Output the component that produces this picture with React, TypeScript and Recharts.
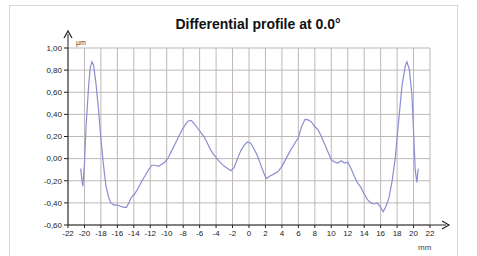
import React from 'react'
import { LineChart, Line, XAxis, YAxis, CartesianGrid } from 'recharts'

// position along the profile (mm) and differential height (µm)
const positionMm = [
  -20.46, -20.3, -20.2, -20.0, -19.8, -19.5, -19.3, -19.1, -18.9, -18.6, -18.3, -18.0, -17.7, -17.4,
  -17.1, -16.8, -16.4, -16.0, -15.6, -15.2, -14.9, -14.6, -14.3, -13.9, -13.5, -13.0, -12.6, -12.2,
  -11.8, -11.4, -11.0, -10.6, -10.2, -9.8, -9.4, -9.0, -8.6, -8.2, -7.8, -7.4, -7.0, -6.6, -6.2, -5.8,
  -5.4, -5.0, -4.6, -4.2, -3.8, -3.4, -3.0, -2.6, -2.2, -1.8, -1.4, -1.0, -0.6, -0.2, 0.2, 0.6, 1.0,
  1.4, 1.8, 2.1, 2.5, 3.0, 3.5, 4.0, 4.5, 5.0, 5.5, 6.0, 6.4, 6.8, 7.2, 7.6, 8.0, 8.4, 8.8, 9.2, 9.6,
  10.0, 10.4, 10.8, 11.2, 11.6, 12.0, 12.4, 12.8, 13.2, 13.6, 14.0, 14.4, 14.8, 15.2, 15.6, 16.0,
  16.3, 16.6, 17.0, 17.4, 17.8, 18.2, 18.6, 19.0, 19.2, 19.5, 19.8, 20.0, 20.2, 20.4, 20.57,
]
const heightUm = [
  -0.09, -0.2, -0.25, -0.05, 0.3, 0.65, 0.82, 0.875, 0.85, 0.68, 0.45, 0.18, -0.05, -0.24,
  -0.34, -0.4, -0.42, -0.42, -0.43, -0.44, -0.44, -0.4, -0.35, -0.32, -0.27, -0.2, -0.15, -0.1,
  -0.06, -0.06, -0.07, -0.05, -0.03, 0.01, 0.07, 0.13, 0.19, 0.25, 0.3, 0.34, 0.345, 0.31, 0.27, 0.23,
  0.19, 0.13, 0.07, 0.03, -0.01, -0.04, -0.07, -0.09, -0.11, -0.08, 0.0, 0.07, 0.12, 0.15, 0.14, 0.09, 0.03,
  -0.05, -0.13, -0.18, -0.16, -0.14, -0.12, -0.07, 0.0, 0.07, 0.13, 0.19, 0.29, 0.355, 0.35, 0.33, 0.29, 0.26, 0.2, 0.13, 0.06,
  -0.01, -0.03, -0.04, -0.02, -0.04, -0.03, -0.09, -0.16, -0.22, -0.26, -0.32, -0.37, -0.4, -0.41, -0.4, -0.44,
  -0.48, -0.44, -0.36, -0.2, 0.02, 0.35, 0.66, 0.84, 0.875, 0.8, 0.58, 0.25, -0.1, -0.215, -0.09,
]

const xTicks = [-22, -20, -18, -16, -14, -12, -10, -8, -6, -4, -2, 0, 2, 4, 6, 8, 10, 12, 14, 16, 18, 20, 22]
const yTicks = [-0.6, -0.4, -0.2, 0, 0.2, 0.4, 0.6, 0.8, 1.0]

const data = positionMm.map((x, i) => ({ x, y: heightUm[i] }))

const fmtY = (v: number) => v.toFixed(2).replace('.', ',')

const App = () => {
  return (
    <div
      style={{
        position: 'absolute',
        left: 0,
        top: 0,
        width: 477,
        height: 256,
        background: '#fff',
        fontFamily: 'Liberation Sans, Arial, sans-serif',
        overflow: 'hidden',
      }}
    >
      <div
        style={{
          position: 'absolute',
          left: 9,
          top: 5,
          width: 447,
          height: 260,
          border: '1px solid #d6d6d6',
        }}
      />
      <div
        style={{
          position: 'absolute',
          left: 0,
          width: 516,
          top: 16,
          textAlign: 'center',
          fontWeight: 'bold',
          fontSize: 14,
          color: '#111',
        }}
      >
        Differential profile at 0.0°
      </div>
      <div style={{ position: 'absolute', left: 0, top: 0 }}>
        <LineChart width={477} height={256} data={data} margin={{ top: 48, right: 47, bottom: 11, left: 28 }}>
          <CartesianGrid stroke="#bfb7b7" strokeWidth={1} />
          <XAxis
            dataKey="x"
            type="number"
            domain={[-22, 22]}
            ticks={xTicks}
            interval={0}
            height={20}
            tickSize={3}
            axisLine={{ stroke: '#222' }}
            tickLine={{ stroke: '#222' }}
            tick={{ fontSize: 8, fill: '#222' }}
          />
          <YAxis
            type="number"
            domain={[-0.6, 1.0]}
            ticks={yTicks}
            interval={0}
            width={40}
            tickSize={4}
            tickFormatter={fmtY}
            axisLine={{ stroke: '#222' }}
            tickLine={{ stroke: '#222' }}
            tick={{ fontSize: 8, fill: '#222' }}
          />
          <Line
            dataKey="y"
            type="linear"
            stroke="#8a8ed0"
            strokeWidth={1.2}
            dot={false}
            isAnimationActive={false}
          />
        </LineChart>
      </div>
      <svg width={477} height={256} style={{ position: 'absolute', left: 0, top: 0, pointerEvents: 'none' }}>
        <line x1={68} y1={48} x2={68} y2={34} stroke="#222" strokeWidth={1} />
        <path d="M64,38 L68,31 L72,38" fill="none" stroke="#222" strokeWidth={1.2} />
        <line x1={430} y1={225} x2={446} y2={225} stroke="#222" strokeWidth={1} />
        <path d="M442,221 L449,225 L442,229" fill="none" stroke="#222" strokeWidth={1.2} />
        <text x={76} y={45} fontSize={7} fill="#444">µm</text>
        <text x={418} y={250} fontSize={8} fill="#444">mm</text>
      </svg>
    </div>
  )
}

export default App
